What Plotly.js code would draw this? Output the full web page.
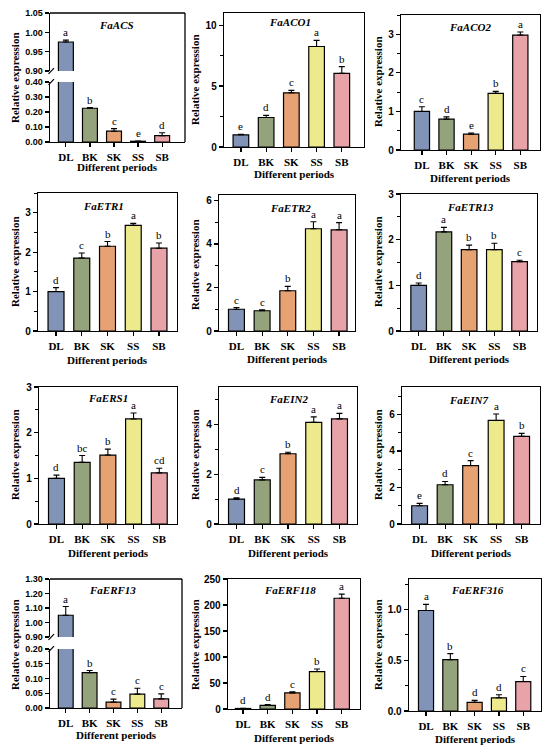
<!DOCTYPE html>
<html><head><meta charset="utf-8">
<script src="https://cdn.plot.ly/plotly-3.0.1.min.js"></script>
<style>html,body{margin:0;padding:0;background:#fff}#chart{width:550px;height:752px}</style>
</head><body><div id="chart"></div>
<script>
// ---------- DATA ----------
const periods = ['DL','BK','SK','SS','SB'];
const genes = ['FaACS','FaACO1','FaACO2','FaETR1','FaETR2','FaETR13','FaERS1','FaEIN2','FaEIN7','FaERF13','FaERF118','FaERF316'];
const means = [
  [0.975,0.225,0.072,0.005,0.042],
  [1.0,2.42,4.45,8.25,6.05],
  [1.0,0.8,0.41,1.47,2.98],
  [1.0,1.85,2.15,2.68,2.1],
  [1.0,0.93,1.85,4.7,4.65],
  [1.0,2.17,1.78,1.78,1.52],
  [1.0,1.35,1.51,2.3,1.12],
  [1.0,1.77,2.82,4.08,4.22],
  [1.0,2.15,3.2,5.67,4.8],
  [1.05,0.12,0.02,0.047,0.031],
  [1.0,7,31,72,213],
  [0.99,0.505,0.085,0.13,0.29]
];
const errors = [
  [0.005,0.005,0.017,0.002,0.02],
  [0.05,0.18,0.2,0.5,0.55],
  [0.12,0.06,0.03,0.05,0.08],
  [0.1,0.13,0.12,0.05,0.13],
  [0.08,0.04,0.2,0.32,0.33],
  [0.05,0.1,0.1,0.14,0.03],
  [0.07,0.15,0.13,0.13,0.1],
  [0.05,0.1,0.06,0.22,0.22],
  [0.13,0.18,0.27,0.35,0.16],
  [0.06,0.007,0.01,0.02,0.017],
  [0.5,1.5,2,5,8],
  [0.06,0.06,0.02,0.03,0.05]
];
const sigLetters = [
  ['a','b','c','e','d'],
  ['e','d','c','a','b'],
  ['c','d','e','b','a'],
  ['d','c','b','a','b'],
  ['c','c','b','a','a'],
  ['d','a','b','b','c'],
  ['d','bc','b','a','cd'],
  ['d','c','b','a','a'],
  ['e','d','c','a','b'],
  ['a','b','c','c','c'],
  ['d','d','c','b','a'],
  ['a','b','d','d','c']
];
const barColors = ['#8194B7','#95A37C','#E7A273','#ECEA8C','#E8A3A8'];

// ---------- PANEL GEOMETRY (pixels) ----------
const geom = [
  {L:50,R:185,T:13,B:142, xr:[-0.66,4.95], yr:[0,0.4001], dtick:0.1, fmt:'.2f', brk:{upB:71, loT:82, yr:[0.9,1.0501], dtick:0.05}, gt:[116,25], yt:[15,78], xl:167},
  {L:224,R:364,T:13,B:147, xr:[-0.67,4.88], yr:[0,11], dtick:5, minor:2.5, gt:[290,22], yt:[195,80], xl:174},
  {L:401,R:540,T:15,B:150, xr:[-0.85,4.8], yr:[0,3.5], dtick:1, minor:0.5, gt:[470,27], yt:[378,82], xl:178},
  {L:38,R:177,T:193,B:331, xr:[-0.7,4.7], yr:[0,3.5], dtick:1, minor:0.5, gt:[103,206], yt:[15,262], xl:360},
  {L:219,R:355,T:195,B:331, xr:[-0.68,4.62], yr:[0,6.25], dtick:2, minor:1, gt:[290,208], yt:[195,265], xl:359},
  {L:401,R:537,T:194,B:331, xr:[-0.7,4.69], yr:[0,3], dtick:1, minor:0.5, gt:[470,207], yt:[378,262], xl:359},
  {L:39,R:177,T:387,B:524, xr:[-0.68,4.69], yr:[0,3], dtick:1, minor:0.5, gt:[108,398], yt:[15,455], xl:553},
  {L:219,R:357,T:387,B:524, xr:[-0.68,4.68], yr:[0,5.5], dtick:2, minor:1, gt:[288,399], yt:[195,455], xl:553},
  {L:402,R:540,T:387,B:524, xr:[-0.69,4.72], yr:[0,7.5], dtick:2, minor:1, gt:[468,400], yt:[378,455], xl:553},
  {L:50,R:182,T:579,B:708, xr:[-0.66,4.87], yr:[0,0.2001], dtick:0.05, fmt:'.2f', brk:{upB:637, loT:649, yr:[0.9,1.3001], dtick:0.1}, gt:[112,590], yt:[15,645], xl:735},
  {L:228,R:360,T:579,B:709, xr:[-0.61,4.74], yr:[0,250], dtick:50, gt:[290,590], yt:[195,645], xl:738},
  {L:409,R:541,T:579,B:711, xr:[-0.7,4.73], yr:[0,1.3], dtick:0.5, minor:0.25, fmt:'.1f', gt:[477,590], yt:[378,645], xl:739}
];

const W=550, H=752;
const px = x => x/W, py = y => 1 - y/H;
const SERIF = '"Liberation Serif","Times New Roman",serif';
const SANS = '"Liberation Sans",Arial,sans-serif';

const layout = {
  width:W, height:H, margin:{l:0,r:0,t:0,b:0}, autosize:false,
  paper_bgcolor:'#fff', plot_bgcolor:'rgba(0,0,0,0)', showlegend:false,
  annotations:[], shapes:[]
};
const traces = [];

function yAxisDef(dom, range, dtick, fmt, minor, xid, mirror, fs){
  const a = {domain:dom, range:range, dtick:dtick, tick0:0, tickformat:fmt||'', anchor:xid,
    showline:true, linecolor:'#000', linewidth:1.3, mirror:mirror,
    ticks:'outside', ticklen:4, tickwidth:1.2, tickcolor:'#000',
    tickfont:{family:SANS, size:fs, weight:'bold', color:'#000'},
    showgrid:false, zeroline:false, fixedrange:true};
  if (minor) a.minor = {dtick:minor, ticks:'outside', ticklen:2.5, tickwidth:1, tickcolor:'#000', showgrid:false};
  return a;
}

let extra = 13;
geom.forEach((g, i) => {
  const n = i+1;
  const xid = 'x'+n, yid = 'y'+n;
  const fs = g.brk ? 9 : 10;
  const lowDom = g.brk ? [py(g.B), py(g.brk.loT)] : [py(g.B), py(g.T)];
  layout['xaxis'+n] = {domain:[px(g.L), px(g.R)], range:g.xr, type:'category',
    categoryorder:'array', categoryarray:periods, anchor:yid,
    showline:true, linecolor:'#000', linewidth:1.3, mirror:!g.brk,
    ticks:'outside', ticklen:4, tickwidth:1.2, tickcolor:'#000',
    tickfont:{family:SERIF, size:11, weight:'bold', color:'#000'},
    showgrid:false, zeroline:false, fixedrange:true};
  layout['yaxis'+n] = yAxisDef(lowDom, g.yr, g.dtick, g.fmt, g.minor, xid, !g.brk, fs);

  const barBase = {type:'bar', x:periods, y:means[i], width:0.62,
    marker:{color:barColors, line:{color:'#000', width:1.2}},
    error_y:{type:'data', symmetric:false, array:errors[i], arrayminus:periods.map(()=>0),
      color:'#000', thickness:1.1, width:3},
    hoverinfo:'skip'};
  traces.push(Object.assign({}, barBase, {xaxis:xid, yaxis:yid}));

  let upId = null;
  if (g.brk) {
    upId = 'y'+extra;
    layout['yaxis'+extra] = yAxisDef([py(g.brk.upB), py(g.T)], g.brk.yr, g.brk.dtick, g.fmt, null, xid, false, fs);
    traces.push(Object.assign({}, barBase, {xaxis:xid, yaxis:upId}));
    extra++;
    // frame top & right
    layout.shapes.push({type:'line', xref:'paper', yref:'paper', x0:px(g.L), x1:px(g.R), y0:py(g.T), y1:py(g.T), line:{color:'#000', width:1.3}});
    layout.shapes.push({type:'line', xref:'paper', yref:'paper', x0:px(g.R), x1:px(g.R), y0:py(g.T), y1:py(g.B), line:{color:'#000', width:1.3}});
    // break slashes
    [g.brk.upB, g.brk.loT].forEach(yy => {
      layout.shapes.push({type:'line', xref:'paper', yref:'paper', x0:px(g.L-1.5), x1:px(g.L+4), y0:py(yy+2.8), y1:py(yy-2.8), line:{color:'#000', width:1.2}});
    });
  }

  // significance letters
  periods.forEach((p, k) => {
    const top = means[i][k] + errors[i][k];
    const useUp = g.brk && top > g.yr[1];
    layout.annotations.push({x:p, y:top, xref:xid, yref:useUp?upId:yid, text:sigLetters[i][k],
      showarrow:false, yanchor:'bottom', yshift:0, font:{family:SERIF, size:11, color:'#000'}});
  });

  // gene title
  layout.annotations.push({x:px(g.gt[0]), y:py(g.gt[1]), xref:'paper', yref:'paper', text:genes[i],
    showarrow:false, xanchor:'center', yanchor:'middle',
    font:{family:SERIF, size:11, weight:'bold', style:'italic', color:'#000'}});
  // y title
  layout.annotations.push({x:px(g.yt[0]), y:py(g.yt[1]), xref:'paper', yref:'paper', text:'Relative expression',
    showarrow:false, textangle:-90, xanchor:'center', yanchor:'middle',
    font:{family:SERIF, size:11, weight:'bold', color:'#000'}});
  // x title
  layout.annotations.push({x:px((g.L+g.R)/2), y:py(g.xl), xref:'paper', yref:'paper', text:'Different periods',
    showarrow:false, xanchor:'center', yanchor:'middle',
    font:{family:SERIF, size:11, weight:'bold', color:'#000'}});
});

Plotly.newPlot('chart', traces, layout, {staticPlot:true, displayModeBar:false});
</script>
</body></html>
